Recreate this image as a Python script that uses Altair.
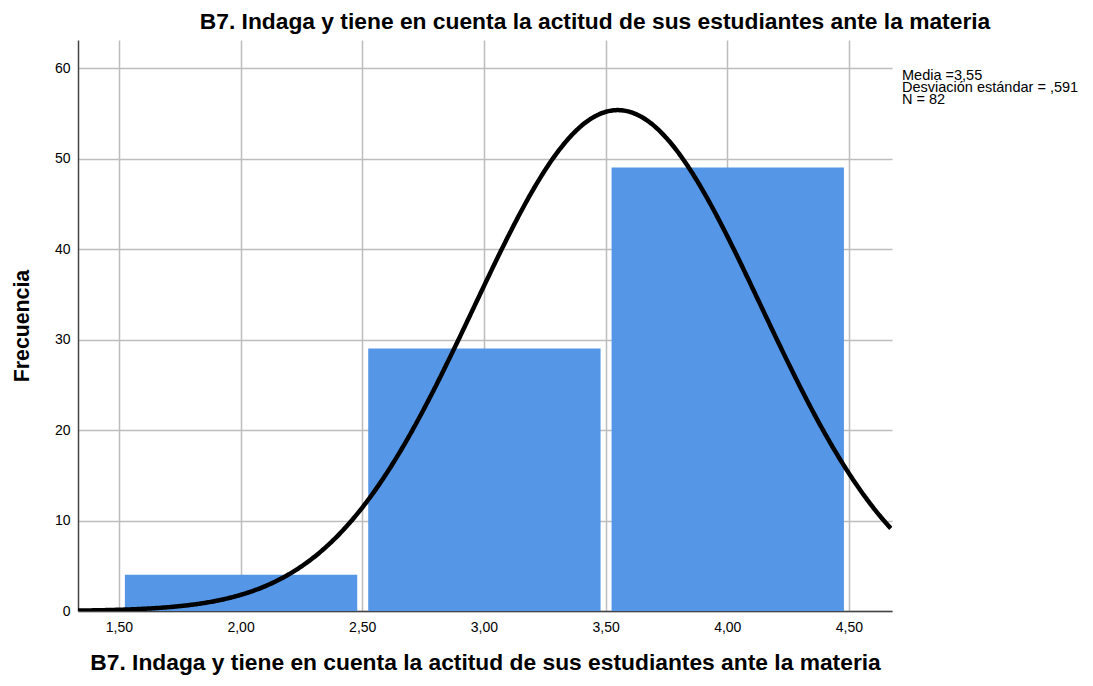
import altair as alt
import pandas as pd

bin_start = [1.5, 2.5, 3.5]
bin_end = [2.5, 3.5, 4.5]
freq = [4, 29, 49]
media = 3.55
sd = 0.591
n = 82
x_ticks = [1.5, 2.0, 2.5, 3.0, 3.5, 4.0, 4.5]
y_ticks = [0, 10, 20, 30, 40, 50, 60]
stats_lines = ["Media =3,55", "Desviación estándar = ,591", "N = 82"]
title_txt = "B7. Indaga y tiene en cuenta la actitud de sus estudiantes ante la materia"

bars_df = pd.DataFrame({"start": bin_start, "end": bin_end, "freq": freq})

xdom = [1.332, 4.677]
ydom = [0, 63.1]
font = "Liberation Sans"

xscale = alt.Scale(domain=xdom, nice=False, zero=False)
yscale = alt.Scale(domain=ydom, nice=False)

xaxis = alt.Axis(values=x_ticks, labelExpr="replace(format(datum.value, '.2f'), '.', ',')",
                 title=title_txt, titleFontSize=22.8, titleFontWeight="bold", titlePadding=17,
                 labelFontSize=14, labelPadding=9, ticks=False, grid=True, labelFlush=False,
                 gridColor="#BDBDBD", gridWidth=1.5, domainColor="#444444", domainWidth=1.5,
                 labelColor="#000000", titleColor="#000000", labelFont=font, titleFont=font)
yaxis = alt.Axis(values=y_ticks, title="Frecuencia", titleFontSize=21.3, titleFontWeight="bold",
                 titlePadding=22, labelFontSize=14, labelPadding=8, ticks=False, grid=True,
                 labelFlush=False,
                 gridColor="#BDBDBD", gridWidth=1.5, domainColor="#444444", domainWidth=1.5,
                 labelColor="#000000", titleColor="#000000", labelFont=font, titleFont=font)

bars = alt.Chart(bars_df).mark_bar(color="#5596E6", xOffset=6, x2Offset=-5).encode(
    x=alt.X("start:Q", scale=xscale, axis=xaxis),
    x2="end:Q",
    y=alt.Y("freq:Q", scale=yscale, axis=yaxis),
    y2=alt.datum(0),
)

curve = alt.Chart(alt.sequence(start=xdom[0], stop=xdom[1], step=0.005, as_="x")).transform_calculate(
    y=f"{n} * 1.0 / ({sd} * sqrt(2*PI)) * exp(-0.5 * pow((datum.x - {media}) / {sd}, 2))"
).mark_line(color="black", strokeWidth=4.5, clip=True).encode(
    x=alt.X("x:Q", scale=xscale),
    y=alt.Y("y:Q", scale=yscale),
)

stats = alt.Chart(pd.DataFrame({"t": [stats_lines]})).mark_text(
    align="left", baseline="top", fontSize=14.5, font=font, lineHeight=12, color="#000000"
).encode(
    x=alt.value(824), y=alt.value(29), text="t"
)

chart = alt.layer(bars, curve, stats).properties(
    width=814, height=571,
    title=alt.TitleParams(title_txt, fontSize=22.8, fontWeight="bold", font=font,
                          anchor="middle", dx=110, offset=6, color="#000000"),
    padding={"left": 70, "top": 32, "right": 192, "bottom": 65},
    autosize=alt.AutoSizeParams(type="none"),
).configure_view(stroke=None)

chart.save("out.html", embed_options={"renderer": "svg", "actions": False})
